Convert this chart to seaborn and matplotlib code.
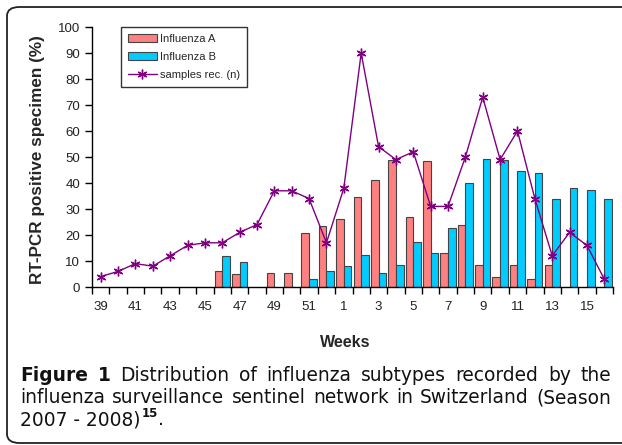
import numpy as np
import pandas as pd
import matplotlib
matplotlib.use("Agg")
import matplotlib.pyplot as plt
import matplotlib.patches as mpatches
from matplotlib.lines import Line2D
import seaborn as sns

# ---------------------------------------------------------------------
# data
# ---------------------------------------------------------------------
weeks = [str(w) for w in list(range(39, 53)) + list(range(1, 17))]

flu_a = [np.nan, np.nan, np.nan, np.nan, np.nan, np.nan, np.nan, 6.3, 4.9, np.nan,
         5.5, 5.5, 20.6, 23.5, 26.3, 34.6, 41.0, 48.8, 27.0, 48.5,
         13.2, 23.8, 8.5, 4.0, 8.5, 3.0, 8.5, np.nan, np.nan, np.nan]
flu_b = [np.nan, np.nan, np.nan, np.nan, np.nan, np.nan, np.nan, 11.9, 9.6, np.nan,
         np.nan, np.nan, 3.0, 6.3, 8.1, 12.3, 5.5, 8.5, 17.4, 13.2,
         22.8, 40.1, 49.4, 48.8, 44.7, 44.0, 33.7, 38.2, 37.3, 33.7]
samples = [4, 6, 9, 8, 12, 16, 17, 17, 21, 24,
           37, 37, 34, 17, 38, 90, 54, 49, 52, 31,
           31, 50, 73, 49, 60, 34, 12, 21, 16, 3]

labels = ["Influenza A", "Influenza B", "samples rec. (n)"]
col_a, col_b, col_line = "#FF8080", "#00CCFF", "#800080"

df = pd.DataFrame({
    "week": weeks * 2,
    "pct": flu_a + flu_b,
    "type": [labels[0]] * len(weeks) + [labels[1]] * len(weeks),
})

# ---------------------------------------------------------------------
# figure
# ---------------------------------------------------------------------
sns.set_style("ticks")
plt.rcParams["font.family"] = ["Liberation Sans", "DejaVu Sans"]

fig = plt.figure(figsize=(6.22, 4.45), dpi=100)
ax = fig.add_axes([92 / 622, 1 - 287 / 445, 521 / 622, 260 / 445])

sns.barplot(data=df, x="week", y="pct", hue="type", order=weeks,
            hue_order=labels[:2], palette=[col_a, col_b], width=0.88, gap=0,
            edgecolor="#444444", linewidth=0.8, saturation=1, legend=False, ax=ax)
sns.pointplot(x=weeks, y=samples, order=weeks, color=col_line, errorbar=None,
              marker=(6, 2, 0), markersize=7, markeredgewidth=1.0,
              linewidth=1.0, ax=ax)

ax.set_xlim(-0.5, len(weeks) - 0.5)
ax.set_ylim(0, 100)
ax.set_yticks(np.arange(0, 101, 10))
ax.set_xticks(np.arange(len(weeks) + 1) - 0.5)
ax.set_xticklabels([])
ax.set_xticks(np.arange(len(weeks)), minor=True)
ax.set_xticklabels([w if i % 2 == 0 else "" for i, w in enumerate(weeks)], minor=True)
ax.tick_params(axis="x", which="major", length=5, width=1, color="black")
ax.tick_params(axis="x", which="minor", length=0, pad=10, labelsize=9.5, labelcolor="#222222")
ax.tick_params(axis="y", length=5, width=1, color="black", labelsize=9.5, labelcolor="#222222")
for s in ["top", "right"]:
    ax.spines[s].set_visible(False)
for s in ["left", "bottom"]:
    ax.spines[s].set_color("black")
    ax.spines[s].set_linewidth(1)

ax.set_ylabel("RT-PCR positive specimen (%)", fontsize=12.3, fontweight="bold")
ax.yaxis.set_label_coords(-0.09, 0.49)
ax.set_xlabel("Weeks", fontsize=11.5, fontweight="bold")
ax.xaxis.set_label_coords(0.486, -0.185)

handles = [mpatches.Patch(facecolor=col_a, edgecolor="#444444", linewidth=0.8),
           mpatches.Patch(facecolor=col_b, edgecolor="#444444", linewidth=0.8),
           Line2D([], [], color=col_line, marker=(6, 2, 0), markersize=7, linewidth=1.0)]
leg = ax.legend(handles, labels, loc="upper left", bbox_to_anchor=(0.056, 1.0),
                fontsize=8, frameon=True, fancybox=False, edgecolor="black",
                handlelength=2.6, handletextpad=0.3, labelspacing=0.75,
                borderpad=0.6, borderaxespad=0)
leg.get_frame().set_linewidth(1)

# rounded frame around figure + caption
frame = mpatches.FancyBboxPatch((7 / 622, 2 / 445), 700 / 622, 436 / 445,
                                boxstyle="round,pad=0,rounding_size=0.02",
                                transform=fig.transFigure, facecolor="none",
                                edgecolor="#222222", linewidth=1.3, clip_on=False)
fig.patches.append(frame)

# caption (justified like the journal layout)
cap_size = 13.4
cap_font = ["DejaVu Sans"]
fig.canvas.draw()
renderer = fig.canvas.get_renderer()


def put(x_px, y_px, s, **kw):
    t = fig.text(x_px / 622, 1 - y_px / 445, s, va="baseline", ha="left",
                 family=cap_font, color="#111111", **kw)
    bb = t.get_window_extent(renderer)
    return x_px + bb.width


def justify(words, y_px, x0=20, x1=611):
    # words: list of (text, weight)
    widths = []
    for w, wt in words:
        t = fig.text(0, 0, w, family=cap_font, fontsize=cap_size, fontweight=wt)
        widths.append(t.get_window_extent(renderer).width)
        t.remove()
    gap = (x1 - x0 - sum(widths)) / (len(words) - 1)
    x = x0
    for (w, wt), wd in zip(words, widths):
        put(x, y_px, w, fontsize=cap_size, fontweight=wt)
        x += wd + gap


line1 = [("Figure", "bold"), ("1", "bold")] + \
    [(w, "normal") for w in "Distribution of influenza subtypes recorded by the".split()]
line2 = [(w, "normal") for w in
         "influenza surveillance sentinel network in Switzerland (Season".split()]
justify(line1, 381)
justify(line2, 403)
x = put(20, 425, "2007 - 2008)", fontsize=cap_size)
x = put(x + 1, 417, "15", fontsize=8.5, fontweight="bold")
put(x, 425, ".", fontsize=cap_size)

fig.savefig("out.png", dpi=100)
